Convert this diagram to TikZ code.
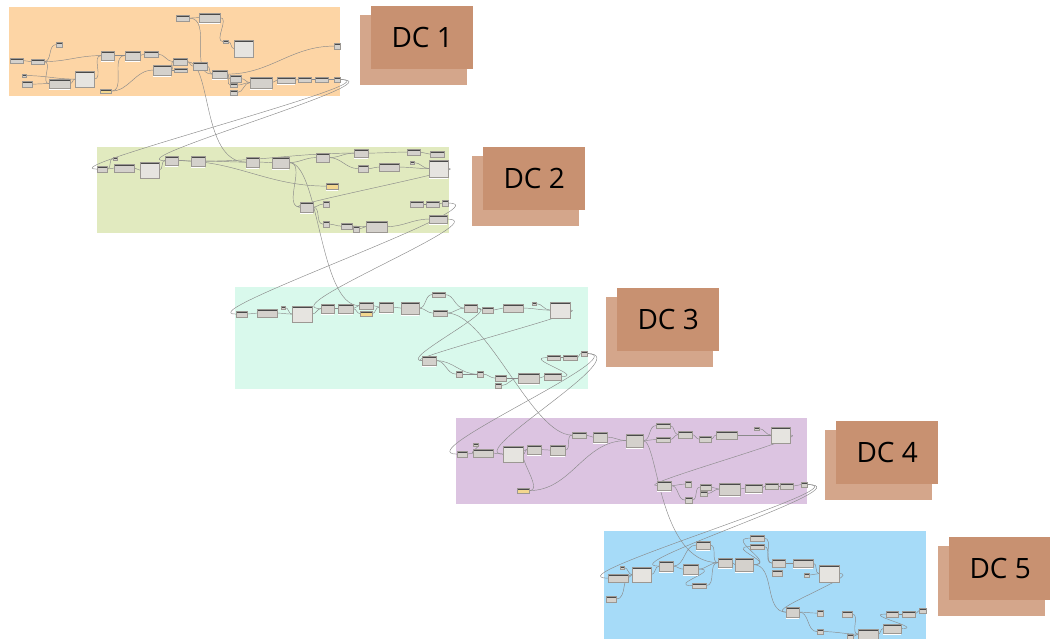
\documentclass[tikz,border=0pt]{standalone}
\usepackage{fontspec}
\setmainfont{Open Sans}
\definecolor{grpA}{HTML}{FDD5A5}
\definecolor{grpB}{HTML}{E1EABF}
\definecolor{grpC}{HTML}{D9F9EC}
\definecolor{grpD}{HTML}{DCC4E1}
\definecolor{grpE}{HTML}{A6DBF8}
\definecolor{nodebody}{HTML}{D4D1CC}
\definecolor{bigbody}{HTML}{E6E4E0}
\definecolor{pickbody}{HTML}{F3D78F}
\definecolor{nodehead}{HTML}{4A4A4A}
\definecolor{nodeline}{HTML}{9C9893}
\definecolor{wirecol}{HTML}{8A8A8A}
\definecolor{dcfrontcol}{HTML}{C89171}
\definecolor{dcbackcol}{HTML}{D4A68B}
\pgfdeclarelayer{grp}
\pgfdeclarelayer{wir}
\pgfsetlayers{grp,wir,main}
\begin{document}
\begin{tikzpicture}[x=1pt,y=-1pt,
  dyn/.style={draw=nodeline,line width=.2pt,fill=nodebody,inner sep=0pt,anchor=north west,
    path picture={\fill[nodehead] (path picture bounding box.north west) rectangle ([yshift=-1.8pt]path picture bounding box.north east);}},
  dynbig/.style={dyn,fill=bigbody},
  dynpick/.style={dyn,fill=pickbody},
  wire/.style={draw=wirecol,line width=.45pt},
  dcback/.style={fill=dcbackcol,minimum width=107pt,minimum height=70pt,inner sep=0pt,anchor=north west},
  dcfront/.style={fill=dcfrontcol,minimum width=102pt,minimum height=63pt,inner sep=0pt,anchor=north west,
    font=\fontsize{28}{30}\selectfont}]
\useasboundingbox (0,0) rectangle (1050,639);

% groups
\begin{pgfonlayer}{grp}
  \fill[grpA] (9,7) rectangle (340,96);
  \fill[grpB] (97,147) rectangle (449,233);
  \fill[grpC] (235,287) rectangle (588,389);
  \fill[grpD] (456,418) rectangle (807,504);
  \fill[grpE] (604,531) rectangle (926,639);
\end{pgfonlayer}

% group 1
\foreach \nm/\x/\y/\w/\h in {n1a/10/58/13/5, n1b/31/59/13/5, n1c/56/42/6/5, n1d/22/74/4/3,
  n1e/22/81/10/6, n1f/49/79/21/9, n1h/101/51/13/9, n1j/125/51/15/9, n1k/144/51/14/6,
  n1l/153/65/18/10, n1m/173/58/14/7, n1n/174/68/13/4, n1o/176/15/13/6, n1p/199/13/21/9,
  n1q/193/62/14/8, n1r/223/40/5/3, n1t/212/70/15/8, n1u/230/75/11/7, n1v/230/83/7/4,
  n1w/230/90/7/5, n1x/250/77/22/11, n1y/277/77/18/6, n1z/298/77/13/5, n1aa/315/77/13/5,
  n1ab/334/77/6/5, n1ac/334/43/6/6}
  \node[dyn,minimum width=\w pt,minimum height=\h pt] (\nm) at (\x,\y) {};
\node[dynbig,minimum width=19pt,minimum height=16pt] (n1g) at (75,71) {};
\node[dynbig,minimum width=19pt,minimum height=17pt] (n1s) at (234,40) {};
\node[dynpick,minimum width=11pt,minimum height=4pt] (n1i) at (100,89) {};

% group 2
\foreach \nm/\x/\y/\w/\h in {n2a/97/166/10/6, n2b/113/157/4/3, n2c/114/164/20/8,
  n2e/165/156/13/9, n2f/191/156/14/10, n2g/246/157/13/10, n2h/272/157/17/11,
  n2i/316/153/13/9, n2j/354/149/14/8, n2k/358/165/10/7, n2l/379/163/20/8,
  n2m/407/149/13/6, n2n/430/151/14/6, n2p/410/161/4/3, n2r/300/202/13/10,
  n2s/323/201/6/6, n2t/323/221/6/6, n2u/341/223/11/6, n2v/353/226/6/6,
  n2w/366/221/21/11, n2x/410/201/13/6, n2y/426/201/13/6, n2z/442/200/6/6, n2aa/429/215/18/8}
  \node[dyn,minimum width=\w pt,minimum height=\h pt] (\nm) at (\x,\y) {};
\node[dynbig,minimum width=19pt,minimum height=16pt] (n2d) at (140,162) {};
\node[dynbig,minimum width=19pt,minimum height=17pt] (n2o) at (429,160) {};
\node[dynpick,minimum width=12pt,minimum height=6pt] (n2q) at (326,183) {};

% group 3
\foreach \nm/\x/\y/\w/\h in {n3a/236/311/11/6, n3b/257/309/20/8, n3c/281/306/4/3,
  n3e/321/304/13/9, n3f/338/304/15/9, n3g/359/302/14/7, n3i/379/302/14/10,
  n3j/401/302/18/12, n3k/432/292/13/5, n3l/433/310/14/6, n3m/464/304/13/8,
  n3n/482/307/11/6, n3o/503/304/20/8, n3p/532/302/4/3, n3r/422/356/14/9,
  n3s/456/371/6/6, n3t/477/371/6/6, n3u/495/375/11/6, n3v/495/383/6/5,
  n3w/518/373/21/10, n3x/544/373/17/7, n3y/547/355/13/5, n3z/563/355/14/5, n3aa/581/351/6/5}
  \node[dyn,minimum width=\w pt,minimum height=\h pt] (\nm) at (\x,\y) {};
\node[dynbig,minimum width=20pt,minimum height=16pt] (n3d) at (292,306) {};
\node[dynbig,minimum width=20pt,minimum height=16pt] (n3q) at (550,302) {};
\node[dynpick,minimum width=12pt,minimum height=5pt] (n3h) at (360,311) {};

% group 4
\foreach \nm/\x/\y/\w/\h in {n4a/457/451/10/6, n4b/473/443/5/3, n4c/473/449/20/8,
  n4e/527/445/14/9, n4f/550/445/15/10, n4g/572/432/14/6, n4h/593/432/14/10,
  n4i/626/434/17/13, n4j/656/423/14/5, n4k/656/437/14/5, n4l/678/431/14/7,
  n4m/699/436/12/6, n4n/716/431/21/8, n4o/754/427/5/3, n4r/657/481/14/9,
  n4s/685/481/6/6, n4t/685/497/7/6, n4u/700/484/11/6, n4v/700/491/7/5,
  n4w/719/483/21/12, n4x/745/484/17/8, n4y/765/483/13/6, n4z/780/483/13/6, n4aa/801/482/6/5}
  \node[dyn,minimum width=\w pt,minimum height=\h pt] (\nm) at (\x,\y) {};
\node[dynbig,minimum width=20pt,minimum height=16pt] (n4d) at (503,446) {};
\node[dynbig,minimum width=19pt,minimum height=16pt] (n4p) at (771,427) {};
\node[dynpick,minimum width=12pt,minimum height=5pt] (n4q) at (517,488) {};

% group 5
\foreach \nm/\x/\y/\w/\h in {n5a/608/574/20/8, n5b/620/566/4/3, n5d/606/596/10/6,
  n5e/659/561/14/10, n5f/683/564/15/10, n5g/692/583/14/5, n5h/696/541/14/8,
  n5i/718/558/14/9, n5j/735/558/18/13, n5k/750/535/14/6, n5l/750/544/14/5,
  n5m/772/559/13/8, n5n/772/570/10/6, n5o/793/559/20/8, n5p/804/573/5/4,
  n5r/786/607/13/10, n5s/817/610/6/6, n5t/817/629/6/5, n5u/842/611/10/6,
  n5v/847/634/6/5, n5w/858/629/20/10, n5x/883/624/18/9, n5y/886/611/12/6,
  n5z/902/611/13/6, n5aa/919/608/7/5}
  \node[dyn,minimum width=\w pt,minimum height=\h pt] (\nm) at (\x,\y) {};
\node[dynbig,minimum width=19pt,minimum height=15pt] (n5c) at (632,567) {};
\node[dynbig,minimum width=20pt,minimum height=17pt] (n5q) at (819,565) {};

% preview bars
\foreach \nm in {n1f, n1h, n1j, n1l, n1p, n1t, n1x, n1y, n2e, n2f, n2g, n2h, n2j, n2q,
  n2r, n2w, n2aa, n2o, n3e, n3f, n3i, n3j, n3r, n3w, n4e, n4f, n4h, n4i, n4r, n4w, n4x,
  n5e, n5f, n5h, n5i, n5j, n5o, n5r, n5w, n5x}
  \fill[white] ([yshift=-.8pt]\nm.south west) rectangle ([yshift=-2pt]\nm.south east);

% wires
\begin{pgfonlayer}{wir}
\foreach \a/\b in {n1a/n1b, n1b/n1h, n1b/n1f, n1b/n1c, n1d/n1g, n1e/n1f, n1f/n1g, n1g/n1h,
  n1h/n1j, n1j/n1k, n1i/n1j, n1i/n1l, n1k/n1m, n1l/n1m, n1l/n1n, n1m/n1q, n1o/n1p,
  n1p/n1r, n1r/n1s, n1q/n1t, n1o/n1t, n1t/n1ac, n1t/n1u, n1t/n1v, n1u/n1x, n1v/n1x,
  n1w/n1x, n1x/n1y, n1y/n1z, n1z/n1aa, n1aa/n1ab,
  n2a/n2b, n2a/n2c, n2c/n2d, n2d/n2e, n2e/n2f, n2f/n2g, n2g/n2h, n2h/n2i, n2i/n2j,
  n2j/n2m, n2m/n2n, n2i/n2k, n2k/n2l, n2l/n2o, n2p/n2o, n2e/n2q, n2f/n2j, n2h/n2r,
  n2r/n2s, n2r/n2t, n2t/n2u, n2u/n2w, n2v/n2w, n2w/n2aa, n2x/n2y, n2y/n2z,
  n3a/n3b, n3b/n3d, n3c/n3d, n3d/n3e, n3e/n3f, n3f/n3g, n3f/n3h, n3g/n3i, n3h/n3i,
  n3i/n3j, n3j/n3k, n3j/n3l, n3k/n3m, n3l/n3m, n3m/n3n, n3n/n3o, n3o/n3q, n3p/n3q,
  n3r/n3s, n3r/n3t, n3s/n3t, n3t/n3u, n3u/n3w, n3v/n3w, n3w/n3x, n3y/n3z, n3z/n3aa,
  n4a/n4c, n4b/n4c, n4c/n4d, n4d/n4e, n4e/n4f, n4f/n4g, n4g/n4h, n4h/n4i, n4q/n4e,
  n4q/n4i, n4i/n4j, n4i/n4k, n4j/n4l, n4k/n4l, n4l/n4m, n4m/n4n, n4n/n4p, n4o/n4p,
  n4r/n4s, n4r/n4t, n4t/n4u, n4u/n4w, n4v/n4w, n4w/n4x, n4x/n4y, n4y/n4z, n4z/n4aa,
  n5a/n5c, n5b/n5c, n5d/n5c, n5c/n5e, n5e/n5f, n5e/n5h, n5f/n5i, n5h/n5i, n5g/n5i,
  n5i/n5j, n5k/n5m, n5l/n5m, n5m/n5o, n5o/n5q, n5p/n5q, n5j/n5r, n5r/n5s, n5r/n5t,
  n5t/n5w, n5u/n5w, n5v/n5w, n5w/n5x, n5y/n5z, n5z/n5aa}
  \draw[wire] (\a.east) to[out=0,in=180] (\b.west);
% wires running back
\foreach \a/\b in {n2o/n2r, n3q/n3r, n3m/n3r, n3x/n3y, n4p/n4r, n5q/n5r, n5j/n5k,
  n5j/n5l, n5x/n5y, n5f/n5g}
  \draw[wire] (\a.east) .. controls +(25,0) and +(-25,0) .. (\b.west);
% wires between groups
\draw[wire] (n1ab.east) .. controls +(60,0) and +(-50,0) .. (n2a.west);
\draw[wire] (n1ab.east) .. controls +(62,0) and +(-50,0) .. (n2e.west);
\draw[wire] (n1m.east) .. controls +(25,0) and +(-45,0) .. (n2g.west);
\draw[wire] (n2z.east) .. controls +(60,0) and +(-50,0) .. (n3a.west);
\draw[wire] (n2aa.east) .. controls +(50,0) and +(-50,0) .. (n3e.west);
\draw[wire] (n2h.east) .. controls +(30,0) and +(-40,0) .. (n3g.west);
\draw[wire] (n3aa.east) .. controls +(50,0) and +(-50,0) .. (n4a.west);
\draw[wire] (n3aa.east) .. controls +(52,0) and +(-40,0) .. (n4d.west);
\draw[wire] (n3l.east) .. controls +(40,0) and +(-40,0) .. (n4g.west);
\draw[wire] (n4aa.east) .. controls +(60,0) and +(-60,0) .. (n5a.west);
\draw[wire] (n4aa.east) .. controls +(62,0) and +(-50,0) .. (n5e.west);
\draw[wire] (n4i.east) .. controls +(15,0) and +(-60,0) .. (n5i.west);
\end{pgfonlayer}

% labels
\foreach \k/\x/\y in {1/371/6, 2/483/147, 3/617/288, 4/836/421, 5/949/537} {
  \node[dcback] (dcb\k) at (\x-11,\y+9) {};
  \node[dcfront] (dc\k) at (\x,\y) {DC \k};
}
\end{tikzpicture}
\end{document}
